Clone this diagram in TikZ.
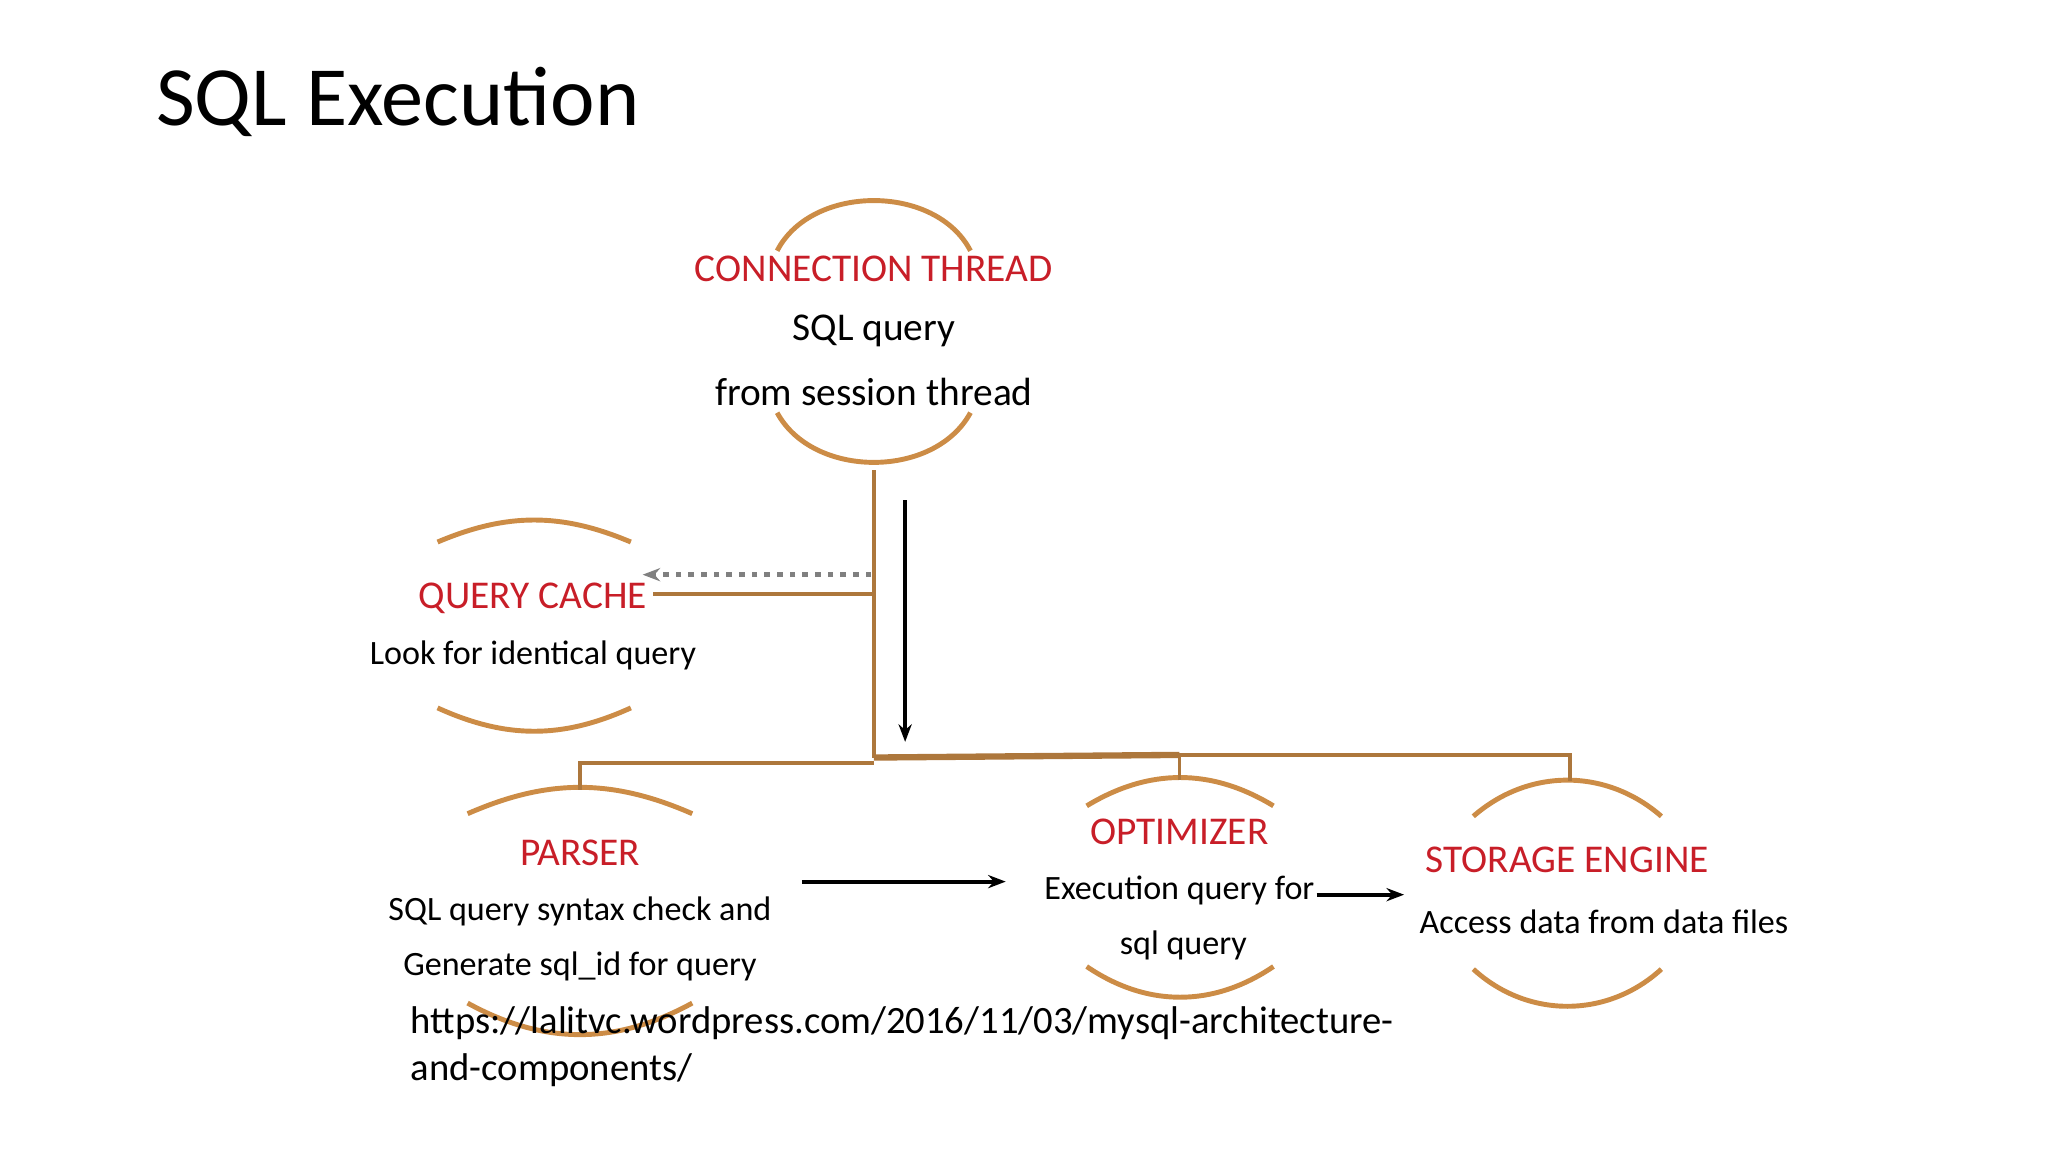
\documentclass[tikz,border=0pt]{standalone}
\usepackage{fontspec}
\setmainfont{Carlito}
\usetikzlibrary{arrows.meta}
\definecolor{arc}{RGB}{204,140,70}
\definecolor{lab}{RGB}{200,30,40}
\begin{document}
\begin{tikzpicture}[x=0.013061cm,y=0.013061cm,
  arcs/.style={draw=arc,line width=1.4pt},
  br/.style={draw=arc!85!black,line width=1.1pt},
  red/.style={text=lab,font=\fontsize{11.2}{13}\selectfont,inner sep=0},
  body/.style={font=\fontsize{9.7}{12}\selectfont,inner sep=0},
  blk/.style={draw=black,line width=1.1pt,-{Stealth[length=5pt]}}]
\useasboundingbox (0,0) rectangle (1568,882);
\node[anchor=west,font=\fontsize{24}{28}\selectfont,inner sep=0] (title) at (119,804) {SQL Execution};
% arcs: x1, x2, yend, sagitta; top bows up, bottom bows down
\newcommand{\toparc}[4]{\pgfmathsetmacro\ang{2*atan(2*#4/(#2-#1))}%
 \draw[arcs] (#1,#3) to[bend left=\ang] (#2,#3);}
\newcommand{\botarc}[4]{\pgfmathsetmacro\ang{2*atan(2*#4/(#2-#1))}%
 \draw[arcs] (#1,#3) to[bend right=\ang] (#2,#3);}
\toparc{595}{743}{690}{45}\botarc{595}{743}{566}{44}
\toparc{335}{483}{467}{15}\botarc{335}{483}{340}{16}
\toparc{358}{530}{259}{18}\botarc{358}{530}{114}{22}
\toparc{832}{975}{265}{20}\botarc{832}{975}{142}{22}
\toparc{1128}{1272}{257}{27}\botarc{1128}{1272}{140}{28}
% texts
\node[red] (ct) at (669,676) {CONNECTION THREAD};
\node[body,font=\fontsize{11.2}{13}\selectfont] (ct1) at (669,629) {SQL query};
\node[body,font=\fontsize{11.2}{13}\selectfont] (ct2) at (669,582) {from session thread};
\node[red] (qc) at (408,424) {QUERY CACHE};
\node[body] (qc1) at (408,380) {Look for identical query};
\node[red] (pa) at (444,229) {PARSER};
\node[body] (pa1) at (444,184) {SQL query syntax check and};
\node[body] (pa2) at (444,142) {Generate sql\_id for query};
\node[red] (op) at (903,245) {OPTIMIZER};
\node[body] (op1) at (903,200) {Execution query for};
\node[body] (op2) at (906,158) {sql query};
\node[red] (se) at (1200,224) {STORAGE ENGINE};
\node[body] (se1) at (1228,176) {Access data from data files};
\node[anchor=north west,align=left,font=\fontsize{11}{13.4}\selectfont,inner sep=0] (url) at (314,112) {https://lalitvc.wordpress.com/2016/11/03/mysql-architecture-\\and-components/};
% branches
\coordinate (v0) at (669,522);
\coordinate (v1) at (669,302);
\draw[br] (v0) -- (v1);
\draw[br] (669,427) -- (500,427);
\draw[br] (669,298) -- (444,298) -- (444,277);
\draw[br,line width=1.8pt] (v1) -- (903,304);
\draw[br] (903,304) -- (1202,304) -- (1202,284);
\draw[br] (903,304) -- (903,285);
\draw[draw=gray,dotted,line width=1.6pt,-{Stealth[length=5pt]}] (667,442) -- (492,442);
\coordinate (a0) at (693,499); \coordinate (a1) at (693,314);
\draw[blk] (a0) -- (a1);
\coordinate (b0) at (614,207); \coordinate (b1) at (770,207);
\draw[blk] (b0) -- (b1);
\coordinate (c0) at (1008,197); \coordinate (c1) at (1075,197);
\draw[blk] (c0) -- (c1);
\end{tikzpicture}
\end{document}
